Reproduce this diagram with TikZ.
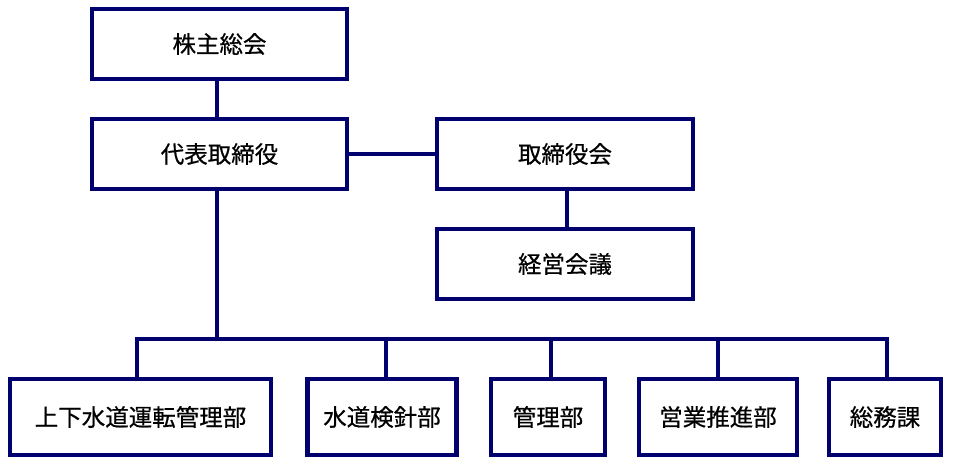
\documentclass[tikz,border=0pt]{standalone}
\usepackage{fontspec}
\setmainfont[FakeBold=0.6,AutoFakeBold=0.6]{Noto Sans CJK JP}
\definecolor{navy}{RGB}{0,0,110}
\begin{document}
\begin{tikzpicture}[x=1pt,y=-1pt,
  box/.style={draw=navy,line width=4.5pt,fill=white,inner sep=0pt,align=center,font=\fontsize{23.5}{28}\selectfont\bfseries},
  link/.style={draw=navy,line width=4.5pt}]
\useasboundingbox[fill=white] (0,0) rectangle (959,469);
\node[box,minimum width=255pt,minimum height=70pt] (kabu) at (219.5,44) {株主総会};
\node[box,minimum width=255pt,minimum height=70pt] (daihyo) at (219.5,154) {代表取締役};
\node[box,minimum width=256pt,minimum height=70pt] (tori) at (565,154) {取締役会};
\node[box,minimum width=256pt,minimum height=70pt] (keiei) at (565,264) {経営会議};
\node[box,minimum width=261pt,minimum height=76pt] (b1) at (140.5,417) {上下水道運転管理部};
\node[box,minimum width=149pt,minimum height=76pt] (b2) at (382,417) {水道検針部};
\node[box,minimum width=114pt,minimum height=76pt] (b3) at (548,417) {管理部};
\node[box,minimum width=158pt,minimum height=76pt] (b4) at (718,417) {営業推進部};
\node[box,minimum width=112pt,minimum height=76pt] (b5) at (885,417) {総務課};
\coordinate (top) at (217,0);
\coordinate (bus) at (217,339);
\coordinate (d1) at (137,339);
\coordinate (d2) at (386,339);
\coordinate (d3) at (551,339);
\coordinate (d4) at (718,339);
\coordinate (d5) at (887,339);
\coordinate (k) at (567,0);
\draw[link] (top |- kabu.south) -- (top |- daihyo.north);
\draw[link] (daihyo.east) -- (tori.west);
\draw[link] (k |- tori.south) -- (k |- keiei.north);
\draw[link] (top |- daihyo.south) -- (bus);
\draw[link,line cap=rect] (d1) -- (d5);
\draw[link] (d1) -- (d1 |- b1.north);
\draw[link] (d2) -- (d2 |- b2.north);
\draw[link] (d3) -- (d3 |- b3.north);
\draw[link] (d4) -- (d4 |- b4.north);
\draw[link] (d5) -- (d5 |- b5.north);
\end{tikzpicture}
\end{document}
